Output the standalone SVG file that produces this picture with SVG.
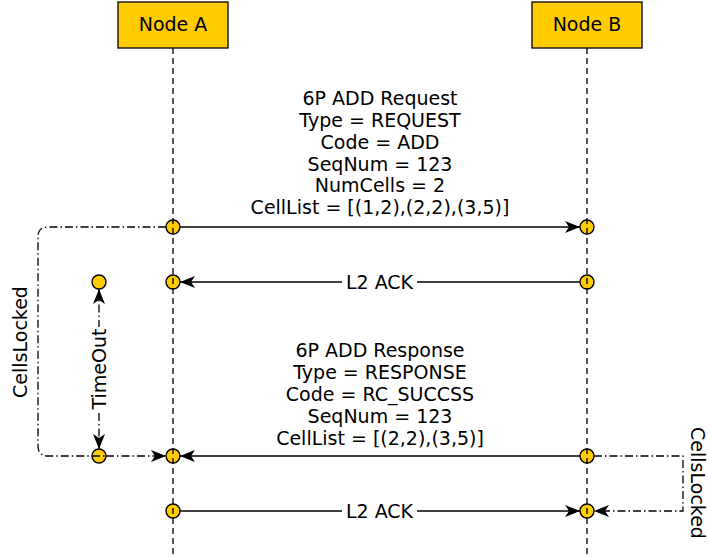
<svg xmlns="http://www.w3.org/2000/svg" width="709" height="556" viewBox="0 0 709 556">
<style>
text{font-family:"DejaVu Sans",sans-serif;font-size:19px;fill:#000;text-anchor:middle}
.box{fill:#ffcc00;stroke:#000;stroke-width:1.3}
.life{stroke:#000;stroke-width:1.3;stroke-dasharray:6,4;fill:none}
.pt{fill:#ffcc00;stroke:#000;stroke-width:1.4}
.msg{stroke:#000;stroke-width:1.4;fill:none}
.dd{stroke:#000;stroke-width:1.3;fill:none;stroke-dasharray:8,3,1.5,3}
.bg{fill:#fff}
</style>
<defs>
<marker id="ah" viewBox="0 0 15 12" refX="15" refY="6" markerWidth="15" markerHeight="12" markerUnits="userSpaceOnUse" orient="auto-start-reverse">
<path d="M0,0 L15,6 L0,12 L4,6 Z" fill="#000"/>
</marker>
</defs>
<g id="nodeA">
<rect class="box" x="118" y="2" width="110" height="46"/>
<text x="173" y="31">Node A</text>
</g>
<g id="nodeB">
<rect class="box" x="532" y="2" width="110" height="46"/>
<text x="587" y="31">Node B</text>
</g>
<g id="points">
<circle class="pt" cx="173" cy="227" r="7"/>
<circle class="pt" cx="587" cy="227" r="7"/>
<circle class="pt" cx="173" cy="282" r="7"/>
<circle class="pt" cx="587" cy="282" r="7"/>
<circle class="pt" cx="173" cy="456" r="7"/>
<circle class="pt" cx="587" cy="456" r="7"/>
<circle class="pt" cx="173" cy="511" r="7"/>
<circle class="pt" cx="587" cy="511" r="7"/>
<circle class="pt" cx="99" cy="282" r="7"/>
</g>
<g id="lifelines">
<line class="life" x1="173" y1="48" x2="173" y2="556"/>
<line class="life" x1="587" y1="48" x2="587" y2="556"/>
</g>
<g id="connectors">
<line class="msg" x1="180" y1="227" x2="580" y2="227" marker-end="url(#ah)"/>
<line class="msg" x1="580" y1="282" x2="180" y2="282" marker-end="url(#ah)"/>
<rect class="bg" x="342" y="272" width="75" height="20"/>
<text x="379.5" y="289">L2 ACK</text>
<line class="msg" x1="580" y1="456" x2="180" y2="456" marker-end="url(#ah)"/>
<line class="msg" x1="180" y1="511" x2="580" y2="511" marker-end="url(#ah)"/>
<rect class="bg" x="342" y="501" width="75" height="20"/>
<text x="379.5" y="518">L2 ACK</text>
<path class="dd" d="M166,227 H48 Q38,227 38,237 V446 Q38,456 48,456 H92"/>
<line class="dd" x1="106" y1="456" x2="166" y2="456" marker-end="url(#ah)"/>
<line class="dd" x1="99" y1="289" x2="99" y2="449" marker-start="url(#ah)" marker-end="url(#ah)"/>
<rect class="bg" x="89" y="327" width="20" height="84"/>
<path class="dd" d="M594,456 H683 V511 H594" marker-end="url(#ah)"/>
</g>
<g id="timeoutEnd">
<circle class="pt" cx="99" cy="456" r="7"/>
<line class="dd" x1="92" y1="456" x2="106" y2="456"/>
</g>
<g id="labels">
<text x="380" y="105">6P ADD Request</text>
<text x="380" y="127">Type = REQUEST</text>
<text x="380" y="149">Code = ADD</text>
<text x="380" y="171">SeqNum = 123</text>
<text x="380" y="192">NumCells = 2</text>
<text x="380" y="214">CellList = [(1,2),(2,2),(3,5)]</text>
<text x="380" y="357">6P ADD Response</text>
<text x="380" y="379">Type = RESPONSE</text>
<text x="380" y="401">Code = RC_SUCCSS</text>
<text x="380" y="423">SeqNum = 123</text>
<text x="380" y="445">CellList = [(2,2),(3,5)]</text>
<text transform="translate(27,342) rotate(-90)">CellsLocked</text>
<text transform="translate(106,369) rotate(-90)">TimeOut</text>
<text transform="translate(691,483) rotate(90)">CellsLocked</text>
</g>
</svg>
